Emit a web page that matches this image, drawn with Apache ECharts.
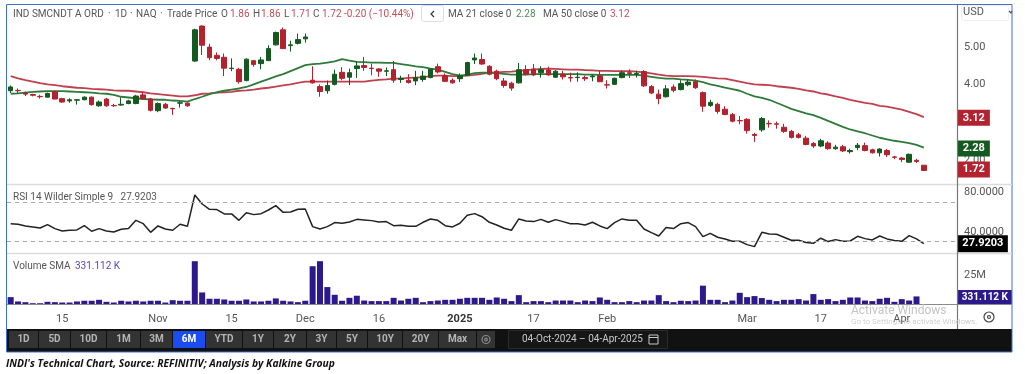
<!DOCTYPE html>
<html>
<head>
<meta charset="utf-8">
<style>html,body{margin:0;background:#fff}#container{width:1025px;height:374px}</style>
<script src="https://cdn.jsdelivr.net/npm/echarts@6/dist/echarts.min.js"></script>
</head>
<body>
<div id="container"></div>
<script>
const dates = [
  '2024-10-04','2024-10-07','2024-10-08','2024-10-09','2024-10-10','2024-10-11','2024-10-14','2024-10-15','2024-10-16','2024-10-17',
  '2024-10-18','2024-10-21','2024-10-22','2024-10-23','2024-10-24','2024-10-25','2024-10-28','2024-10-29','2024-10-30','2024-10-31',
  '2024-11-01','2024-11-04','2024-11-05','2024-11-06','2024-11-07','2024-11-08','2024-11-11','2024-11-12','2024-11-13','2024-11-14',
  '2024-11-15','2024-11-18','2024-11-19','2024-11-20','2024-11-21','2024-11-22','2024-11-25','2024-11-26','2024-11-27','2024-11-29',
  '2024-12-02','2024-12-03','2024-12-04','2024-12-05','2024-12-06','2024-12-09','2024-12-10','2024-12-11','2024-12-12','2024-12-13',
  '2024-12-16','2024-12-17','2024-12-18','2024-12-19','2024-12-20','2024-12-23','2024-12-24','2024-12-26','2024-12-27','2024-12-30',
  '2024-12-31','2025-01-02','2025-01-03','2025-01-06','2025-01-07','2025-01-08','2025-01-10','2025-01-13','2025-01-14','2025-01-15',
  '2025-01-16','2025-01-17','2025-01-21','2025-01-22','2025-01-23','2025-01-24','2025-01-27','2025-01-28','2025-01-29','2025-01-30',
  '2025-01-31','2025-02-03','2025-02-04','2025-02-05','2025-02-06','2025-02-07','2025-02-10','2025-02-11','2025-02-12','2025-02-13',
  '2025-02-14','2025-02-18','2025-02-19','2025-02-20','2025-02-21','2025-02-24','2025-02-25','2025-02-26','2025-02-27','2025-02-28',
  '2025-03-03','2025-03-04','2025-03-05','2025-03-06','2025-03-07','2025-03-10','2025-03-11','2025-03-12','2025-03-13','2025-03-14',
  '2025-03-17','2025-03-18','2025-03-19','2025-03-20','2025-03-21','2025-03-24','2025-03-25','2025-03-26','2025-03-27','2025-03-28',
  '2025-03-31','2025-04-01','2025-04-02','2025-04-03','2025-04-04',
  // empty room right of the last candle
  '2025-04-07','2025-04-08','2025-04-09','2025-04-10'
]
const open = [
  3.84,3.85,3.78,3.74,3.69,3.67,3.81,3.63,3.57,3.59,
  3.60,3.67,3.44,3.62,3.45,3.46,3.50,3.50,3.73,3.62,
  3.31,3.48,3.37,3.51,3.51,4.63,5.56,5.00,4.78,4.73,
  4.43,4.41,4.11,4.64,4.56,4.64,5.06,5.46,5.04,5.10,
  5.22,4.12,3.95,3.84,4.01,4.33,4.20,4.43,4.51,4.44,
  4.42,4.36,4.40,4.14,4.12,4.10,4.14,4.19,4.48,4.24,
  4.12,4.16,4.25,4.66,4.67,4.49,4.36,4.10,4.04,4.05,
  4.40,4.42,4.32,4.39,4.20,4.28,4.19,4.19,4.19,4.21,
  4.24,4.00,4.01,4.19,4.32,4.28,4.35,3.95,3.75,3.68,
  3.94,3.87,4.00,4.08,3.79,3.45,3.48,3.35,3.21,3.05,
  3.08,2.68,2.80,2.97,2.96,2.87,2.76,2.67,2.58,2.44,
  2.37,2.45,2.30,2.35,2.22,2.33,2.38,2.27,2.19,2.25,
  2.08,2.05,1.94,1.99,1.86
]
const close = [
  3.94,3.84,3.75,3.72,3.68,3.77,3.62,3.54,3.60,3.60,
  3.67,3.47,3.54,3.44,3.44,3.48,3.57,3.70,3.63,3.32,
  3.50,3.38,3.36,3.52,3.44,5.46,5.05,4.72,4.70,4.44,
  4.44,4.08,4.68,4.54,4.66,4.96,5.39,4.96,5.06,5.20,
  5.27,4.05,3.82,3.98,4.28,4.17,4.32,4.50,4.46,4.43,
  4.36,4.37,4.12,4.17,4.06,4.19,4.23,4.41,4.34,4.09,
  4.05,4.24,4.59,4.71,4.55,4.28,4.16,3.98,3.91,4.40,
  4.28,4.26,4.40,4.26,4.36,4.21,4.18,4.20,4.16,4.23,
  4.08,3.99,4.17,4.32,4.30,4.30,3.97,3.78,3.63,3.89,
  3.85,4.03,4.07,3.92,3.43,3.53,3.29,3.21,3.03,3.04,
  2.78,2.65,3.10,2.96,2.95,2.76,2.60,2.60,2.41,2.37,
  2.51,2.30,2.34,2.24,2.25,2.39,2.25,2.19,2.29,2.14,
  2.07,2.01,2.15,1.96,1.72
]
const low = [
  3.78,3.76,3.70,3.69,3.63,3.66,3.61,3.52,3.52,3.47,
  3.59,3.44,3.41,3.41,3.41,3.44,3.48,3.48,3.61,3.29,
  3.27,3.36,3.20,3.39,3.41,4.61,4.79,4.65,4.65,4.23,
  4.36,4.03,4.09,4.48,4.41,4.63,5.04,4.95,4.88,5.07,
  5.12,4.03,3.68,3.76,3.98,4.12,3.99,4.18,4.37,4.25,
  4.21,4.23,4.05,4.05,4.03,3.99,4.08,4.17,4.30,4.08,
  4.03,4.07,4.24,4.55,4.53,4.25,4.12,3.92,3.84,4.03,
  4.25,4.23,4.19,4.24,4.18,4.14,4.08,4.08,4.10,4.09,
  4.07,3.90,4.00,4.17,4.18,4.19,3.94,3.75,3.48,3.66,
  3.80,3.85,3.96,3.89,3.28,3.41,3.23,3.19,3.00,2.95,
  2.70,2.48,2.75,2.86,2.83,2.72,2.57,2.57,2.39,2.32,
  2.34,2.27,2.27,2.21,2.17,2.26,2.23,2.17,2.09,2.08,
  2.02,1.94,1.92,1.92,1.71
]
const high = [
  3.98,3.90,3.82,3.76,3.73,3.79,3.84,3.65,3.64,3.62,
  3.69,3.69,3.58,3.65,3.49,3.66,3.60,3.73,3.80,3.65,
  3.53,3.52,3.39,3.57,3.53,5.49,5.58,5.09,4.86,4.83,
  4.70,4.45,4.70,4.65,4.74,5.05,5.41,5.52,5.17,5.36,
  5.36,4.49,4.01,4.11,4.40,4.47,4.43,4.63,4.74,4.56,
  4.44,4.46,4.63,4.24,4.28,4.37,4.37,4.44,4.56,4.30,
  4.17,4.30,4.61,4.83,4.83,4.52,4.40,4.18,4.08,4.58,
  4.52,4.55,4.49,4.48,4.39,4.37,4.32,4.33,4.24,4.26,
  4.37,4.12,4.19,4.37,4.41,4.37,4.39,3.99,3.87,3.99,
  4.01,4.12,4.14,4.14,3.82,3.60,3.52,3.43,3.25,3.17,
  3.11,2.72,3.14,3.05,3.02,2.96,2.80,2.72,2.64,2.48,
  2.56,2.50,2.40,2.40,2.30,2.45,2.46,2.30,2.31,2.29,
  2.11,2.08,2.17,2.03,1.86
]
const ma21 = [
  3.76,3.77,3.79,3.81,3.82,3.83,3.83,3.83,3.82,3.81,
  3.80,3.79,3.77,3.76,3.73,3.68,3.66,3.64,3.62,3.61,
  3.60,3.60,3.58,3.57,3.55,3.62,3.68,3.75,3.80,3.84,
  3.87,3.90,3.94,4.01,4.08,4.15,4.22,4.28,4.36,4.44,
  4.52,4.55,4.56,4.59,4.62,4.68,4.64,4.61,4.60,4.59,
  4.59,4.58,4.58,4.55,4.52,4.49,4.47,4.43,4.40,4.34,
  4.28,4.24,4.27,4.31,4.32,4.32,4.31,4.29,4.27,4.27,
  4.27,4.28,4.28,4.28,4.28,4.28,4.28,4.28,4.27,4.27,
  4.26,4.26,4.26,4.26,4.26,4.26,4.24,4.21,4.18,4.16,
  4.16,4.14,4.13,4.11,4.07,4.01,3.97,3.92,3.88,3.84,
  3.76,3.69,3.65,3.60,3.52,3.44,3.36,3.30,3.24,3.19,
  3.12,3.04,2.96,2.88,2.81,2.76,2.71,2.65,2.59,2.55,
  2.51,2.48,2.45,2.40,2.33
]
const ma50 = [
  4.23,4.17,4.12,4.08,4.04,4.01,3.99,3.96,3.94,3.92,
  3.91,3.89,3.88,3.87,3.85,3.84,3.84,3.82,3.80,3.77,
  3.75,3.73,3.71,3.69,3.69,3.72,3.76,3.77,3.79,3.80,
  3.81,3.84,3.85,3.87,3.90,3.92,3.95,3.98,4.01,4.05,
  4.08,4.08,4.08,4.08,4.08,4.08,4.08,4.08,4.08,4.11,
  4.13,4.14,4.16,4.16,4.18,4.19,4.20,4.23,4.24,4.24,
  4.23,4.23,4.24,4.26,4.29,4.32,4.33,4.34,4.35,4.37,
  4.39,4.40,4.42,4.43,4.42,4.41,4.40,4.40,4.39,4.38,
  4.37,4.37,4.36,4.36,4.36,4.35,4.33,4.30,4.27,4.24,
  4.23,4.23,4.23,4.22,4.21,4.19,4.17,4.16,4.12,4.08,
  4.04,4.01,4.00,3.99,3.96,3.94,3.92,3.89,3.85,3.82,
  3.77,3.74,3.69,3.65,3.60,3.56,3.52,3.49,3.44,3.42,
  3.38,3.34,3.28,3.22,3.14
]
const rsi = [
  48.3,47.7,46.0,45.0,43.9,47.3,43.3,40.9,41.6,41.9,
  46.3,40.6,43.3,40.9,39.9,42.6,43.3,51.7,48.3,39.5,
  46.0,42.9,41.6,47.7,45.6,77.4,68.3,62.9,62.6,58.2,
  58.2,51.7,59.5,57.5,58.5,62.2,66.6,59.8,60.2,62.9,
  63.2,45.3,42.9,45.3,49.4,48.7,50.0,52.7,52.1,51.4,
  50.0,50.4,46.3,46.6,45.6,45.6,49.7,53.1,51.7,46.3,
  45.0,48.7,56.8,58.5,55.4,49.7,47.0,43.6,41.6,53.1,
  51.0,50.4,52.7,49.7,52.4,50.4,48.3,48.3,47.0,49.7,
  46.0,43.3,49.4,53.1,51.7,51.7,42.9,39.2,35.8,44.3,
  43.3,48.3,49.4,45.3,35.1,38.5,34.5,32.8,30.4,30.4,
  27.0,25.0,39.5,37.9,37.5,34.5,31.4,31.4,29.1,28.4,
  33.5,30.1,32.1,30.4,30.7,35.5,33.1,31.8,35.8,32.8,
  31.1,30.4,36.2,32.8,27.92
]
// volume in millions of shares
const volume = [
  6.3,2.6,2.0,1.1,1.1,2.3,2.0,1.7,1.7,2.6,
  3.2,3.2,4.0,2.3,1.7,3.2,2.6,3.2,2.6,3.2,
  3.2,1.7,3.7,3.2,3.2,37.0,10.3,4.9,4.9,4.3,
  3.2,3.2,4.3,2.6,2.6,3.2,5.2,3.2,2.6,2.0,
  3.2,32.7,37.0,14.9,8.3,3.2,5.7,7.5,3.4,2.9,
  2.9,2.9,5.7,3.4,4.9,5.7,2.0,2.9,3.4,4.0,
  4.0,4.9,5.7,5.7,5.7,4.0,6.0,4.9,2.9,8.0,
  2.0,2.9,2.9,2.0,3.4,3.4,3.4,2.0,3.4,2.9,
  6.0,4.0,2.0,2.0,2.9,2.0,3.4,3.4,8.0,2.9,
  2.0,3.2,2.9,3.4,16.1,4.0,4.0,2.0,3.4,10.0,
  6.3,7.2,5.5,4.0,2.9,4.0,4.0,4.6,3.4,8.9,
  4.0,4.6,2.9,4.0,6.0,6.0,3.4,2.9,4.9,5.7,
  2.3,4.6,3.4,6.9,0.331
]
const xTickDates = ['2024-10-15','2024-11-01','2024-11-15','2024-12-02','2024-12-16','2025-01-02','2025-01-17','2025-02-03','2025-03-03','2025-03-17','2025-04-01']
const xTickLabels = ['15','Nov','15','Dec','16','2025','17','Feb','Mar','17','Apr']
const priceTicks = [2, 3, 4, 5]
const rsiTicks = [40, 80]
const rsiBands = [30, 70]
const volumeTicks = [25]
const rangeButtons = ['1D','5D','10D','1M','3M','6M','YTD','1Y','2Y','3Y','5Y','10Y','20Y','Max']

const RED = '#b3222f'
const GREEN = '#14591f'
const INDIGO = '#2c1a8c'
const FONT = 'Roboto, "Liberation Sans", sans-serif'
const SMALL = `10px ${FONT}`

const myChart = echarts.init(document.getElementById('container'))

const text = (x, y, str, fill, font, align) => ({
    type: 'text',
    z: 20,
    silent: true,
    style: { x, y, text: str, fill, font: font || SMALL, align: align || 'left', verticalAlign: 'middle' }
})
const box = (x, y, width, height, fill, stroke, r) => ({
    type: 'rect',
    z: 15,
    silent: true,
    shape: { x, y, width, height, r: r || 0 },
    style: { fill: fill || 'none', stroke: stroke || 'none', lineWidth: 1 }
})
const line = (x1, y1, x2, y2, stroke, lineWidth) => ({
    type: 'line',
    z: 16,
    silent: true,
    shape: { x1, y1, x2, y2 },
    style: { stroke, lineWidth: lineWidth || 1 }
})
const path = (points, stroke) => ({
    type: 'polyline',
    z: 20,
    silent: true,
    shape: { points },
    style: { stroke, fill: 'none', lineWidth: 1.2 }
})
const ring = (cx, cy, r, stroke) => ({
    type: 'circle',
    z: 20,
    silent: true,
    shape: { cx, cy, r },
    style: { stroke, fill: 'none', lineWidth: 1.2 }
})

// toolbar button edges, in pixels
const buttonEdges = [9, 39, 71, 107, 141, 173, 206, 243, 274, 307, 337, 368, 403, 439, 477]

const chrome = [
    // pane frames
    box(7, 329, 1005, 23, '#111111'),
    line(7, 184.5, 1012, 184.5, '#dcdcdc', 1.5),
    line(7, 253.5, 1012, 253.5, '#dcdcdc', 1.5),
    line(7, 304.5, 1012, 304.5, '#8a8a8a', 1),
    line(957.5, 5, 957.5, 329, '#777777', 1.2),

    // header
    text(13, 14, 'IND SMCNDT A ORD', '#555'),
    text(108, 14, '·', '#555'),
    text(115, 14, '1D', '#555'),
    text(130, 14, '·', '#555'),
    text(136, 14, 'NAQ', '#555'),
    text(160, 14, '·', '#555'),
    text(167, 14, 'Trade Price', '#555'),
    text(221, 14, 'O', '#555'), text(230, 14, '1.86', '#c0505c'),
    text(253, 14, 'H', '#555'), text(261, 14, '1.86', '#c0505c'),
    text(284, 14, 'L', '#555'), text(291, 14, '1.71', '#c0505c'),
    text(313, 14, 'C', '#555'), text(322, 14, '1.72', '#c0505c'),
    text(344, 14, '-0.20 (−10.44%)', '#c0505c'),
    box(421.5, 5.5, 22, 16, '#fff', '#dddddd', 2),
    path([[434, 11], [431, 14], [434, 17]], '#333'),
    text(448, 14, 'MA 21 close 0', '#555'), text(516, 14, '2.28', '#4c8c58'),
    text(543, 14, 'MA 50 close 0', '#555'), text(610, 14, '3.12', '#c0505c'),
    box(961.5, 5.5, 47, 15, '#fff', '#eeeeee', 2),
    text(963, 12, 'USD', '#555', `11px ${FONT}`),
    path([[1009, 11], [1011, 13], [1012, 11]], '#555'),

    // pane captions
    text(13, 197, 'RSI 14 Wilder Simple 9   27.9203', '#555'),
    text(13, 266, 'Volume SMA', '#555'),
    text(75, 266, '331.112 K', '#5a48b8'),

    // gear next to the axis
    ring(989, 317, 5, '#444'),
    ring(989, 317, 1.5, '#444'),

    // toolbar
    ...rangeButtons.flatMap((label, i) => {
        const x = buttonEdges[i]
        const w = buttonEdges[i + 1] - x - 1
        const on = label === '6M'
        return [
            box(x, 331, w, 17, on ? '#1a4cf0' : '#333333'),
            text(x + w / 2, 339.5, label, on ? '#fff' : '#b4b4b4', `bold 10px ${FONT}`, 'center')
        ]
    }),
    box(477, 331, 18, 17, '#333333'),
    ring(486, 339.5, 4, '#8a8a8a'),
    ring(486, 339.5, 1.3, '#8a8a8a'),
    box(508.5, 330.5, 159, 18, '#161616', '#2a2a2a'),
    text(522, 339.5, '04-Oct-2024 – 04-Apr-2025', '#c8c8c8', SMALL),
    box(649, 335, 9, 9, null, '#c8c8c8'),
    line(649, 337.5, 658, 337.5, '#c8c8c8'),

    // outer frame
    box(6.5, 4.5, 1005.5, 347.5, null, '#3f72cf'),

    // caption under the screenshot
    text(6, 364, "INDI's Technical Chart, Source: REFINITIV; Analysis by Kalkine Group", '#111', 'italic bold 10.3px "Open Sans", sans-serif'),

    // the screenshot's watermark
    text(851, 311, 'Activate Windows', '#c4c4c4', `12px ${FONT}`),
    text(851, 322, 'Go to Settings to activate Windows.', '#cfcfcf', `8px ${FONT}`)
]

const axisTag = (coord, label, color, offset, width, height, size) => ({
    coord,
    symbol: 'rect',
    symbolSize: [width, height],
    symbolOffset: offset,
    itemStyle: { color },
    label: {
        show: true,
        position: 'inside',
        formatter: label,
        color: '#fff',
        fontFamily: FONT,
        fontWeight: 'bold',
        fontSize: size
    }
})

const LAST = 124
const grids = [
    { left: 7, right: 68, top: 5, height: 179.5 },
    { left: 7, right: 68, top: 185, height: 68 },
    { left: 7, right: 68, top: 253, height: 51.5 }
]

const option = {
    animation: false,
    backgroundColor: '#fff',
    textStyle: { fontFamily: FONT },
    grid: grids,
    graphic: chrome,
    xAxis: [0, 1, 2].map((g) => ({
        type: 'category',
        gridIndex: g,
        data: dates,
        show: g === 2,
        boundaryGap: true,
        axisLine: { show: false },
        axisTick: { show: false },
        axisLabel: {
            color: '#555',
            fontSize: 11,
            margin: 9,
            interval: (_, value) => xTickDates.includes(value),
            formatter: (value) => {
                const label = xTickLabels[xTickDates.indexOf(value)]
                return label === '2025' ? `{strong|${label}}` : label
            },
            rich: { strong: { fontWeight: 'bold', fontSize: 11, color: '#333' } }
        }
    })),
    yAxis: [
        {
            type: 'value', gridIndex: 0, position: 'right', min: 1.347, max: 6.12, scale: true,
            splitLine: { show: false }, axisLine: { show: false }, axisTick: { show: false },
            axisLabel: { customValues: priceTicks, color: '#555', fontSize: 11, margin: 7, formatter: (v) => v.toFixed(2) }
        },
        {
            type: 'value', gridIndex: 1, position: 'right', min: 18.5, max: 87.6, scale: true,
            splitLine: { show: false }, axisLine: { show: false }, axisTick: { show: false },
            axisLabel: { customValues: rsiTicks, color: '#555', fontSize: 11, margin: 7, formatter: (v) => v.toFixed(4) }
        },
        {
            type: 'value', gridIndex: 2, position: 'right', min: 0, max: 44,
            splitLine: { show: false }, axisLine: { show: false }, axisTick: { show: false },
            axisLabel: { customValues: volumeTicks, color: '#555', fontSize: 11, margin: 7, formatter: (v) => `${v}M` }
        }
    ],
    series: [
        {
            name: 'MA 50',
            type: 'line',
            xAxisIndex: 0,
            yAxisIndex: 0,
            data: ma50,
            showSymbol: false,
            lineStyle: { color: '#c0404f', width: 1.8 },
            z: 2
        },
        {
            name: 'MA 21',
            type: 'line',
            xAxisIndex: 0,
            yAxisIndex: 0,
            data: ma21,
            showSymbol: false,
            lineStyle: { color: '#2e7a3a', width: 1.8 },
            z: 2
        },
        {
            name: 'Trade Price',
            type: 'candlestick',
            xAxisIndex: 0,
            yAxisIndex: 0,
            barWidth: 5,
            data: open.map((o, i) => [o, close[i], low[i], high[i]]),
            itemStyle: { color: GREEN, color0: RED, borderColor: GREEN, borderColor0: RED, borderWidth: 1 },
            z: 3,
            markPoint: {
                silent: true,
                z: 12,
                data: [
                    axisTag([LAST, ma50[LAST] - 0.02], '3.12', RED, [50, 0], 32, 16, 11),
                    axisTag([LAST, 2.28], '2.28', GREEN, [50, -1], 32, 16, 11),
                    axisTag([LAST, close[LAST]], '1.72', RED, [50, -1], 32, 16, 11)
                ]
            }
        },
        {
            name: 'RSI',
            type: 'line',
            xAxisIndex: 1,
            yAxisIndex: 1,
            data: rsi,
            showSymbol: false,
            lineStyle: { color: '#222', width: 1.5 },
            markLine: {
                silent: true,
                symbol: 'none',
                label: { show: false },
                lineStyle: { color: '#a8a8a8', type: [4, 4], width: 1 },
                data: rsiBands.map((yAxis) => ({ yAxis }))
            },
            markPoint: {
                silent: true,
                z: 12,
                data: [axisTag([LAST, rsi[LAST]], '27.9203', '#000', [59, 0], 50, 17, 11)]
            }
        },
        {
            name: 'Volume',
            type: 'bar',
            xAxisIndex: 2,
            yAxisIndex: 2,
            barWidth: 6,
            data: volume,
            itemStyle: { color: INDIGO },
            markPoint: {
                silent: true,
                z: 12,
                data: [axisTag([LAST, volume[LAST]], '331.112 K', '#2c1a8c', [61, -7], 54, 14, 10)]
            }
        }
    ]
}

myChart.setOption(option)
</script>
</body>
</html>
